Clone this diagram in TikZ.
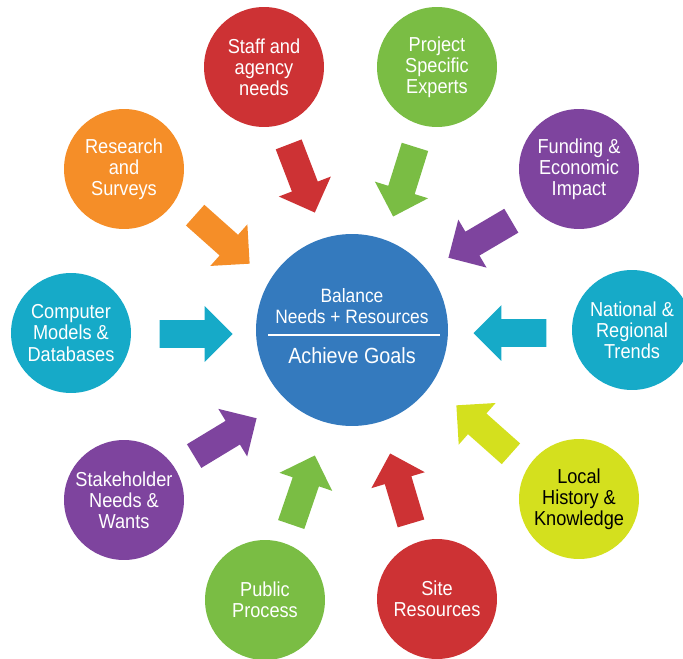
\documentclass[tikz,border=0pt]{standalone}
\usepackage{fontspec}
\setmainfont{Liberation Sans}[FakeStretch = 0.9]
\usetikzlibrary{shapes.arrows}

\definecolor{hubblue}{RGB}{52,122,190}
\definecolor{inred}{RGB}{205,50,52}
\definecolor{ingreen}{RGB}{122,189,68}
\definecolor{inorange}{RGB}{245,142,40}
\definecolor{inpurple}{RGB}{126,68,158}
\definecolor{incyan}{RGB}{22,170,200}
\definecolor{inyellow}{RGB}{212,224,30}

\begin{document}
\begin{tikzpicture}[x = 0.02cm, y = -0.02cm,
	topic/.style = {circle, minimum size = 2.4cm, inner sep = 0pt, align = center, font = \fontsize{11.5}{12}\selectfont},
	blockarrow/.style = {single arrow, anchor = tip, minimum height = 1.46cm, inner xsep = 0pt, inner ysep = 0.27cm, single arrow head extend = 0.28cm, draw = none}]

	\useasboundingbox (0,0) rectangle (683,659);

	% Central goal

	\node [circle, fill = hubblue, minimum size = 3.84cm] (goals) at (352,330) {};
	\node [text = white, align = center, font = \fontsize{11}{11.5}\selectfont] (balance) at (352,306) {Balance\\Needs + Resources};
	\node [text = white, font = \fontsize{12.5}{13}\selectfont] (achieve) at (352,356) {Achieve Goals};
	\draw [white, line width = 1pt] (268,335) -- (440,335);

	% Surrounding inputs

	\foreach \name/\x/\y/\col/\tcol/\txt in {staff/264/67/inred/white/{Staff and\\agency\\needs},
			experts/437/67/ingreen/white/{Project\\Specific\\Experts},
			research/124/169/inorange/white/{Research\\and\\Surveys},
			funding/579/169/inpurple/white/{Funding \&\\Economic\\Impact},
			models/71/333/incyan/white/{Computer\\Models \&\\Databases},
			trends/632/330/incyan/white/{National \&\\Regional\\Trends},
			history/579/499/inyellow/black/{Local\\History \&\\Knowledge},
			stakeholder/124/500/inpurple/white/{Stakeholder\\Needs \&\\Wants},
			public/265/600/ingreen/white/{Public\\Process},
			site/437/599/inred/white/{Site\\Resources}}
		\node [topic, fill = \col, text = \tcol] (\name) at (\x,\y) {\txt};

	% Block arrows into the centre (placed by their tips)

	\foreach \name/\x/\y/\a/\col in {arr-research/250/264/-41.7/inorange, arr-staff/315/213/-69/inred,
			arr-experts/393/217/-107.4/ingreen, arr-funding/448/258/-149.5/inpurple,
			arr-trends/473/333/180/incyan, arr-history/456/405/138.4/inyellow,
			arr-site/390/453/106.6/inred, arr-public/315/455/71.1/ingreen,
			arr-stakeholder/257/418/31.2/inpurple, arr-models/233/334/0/incyan}
		\node [blockarrow, fill = \col, rotate = \a] (\name) at (\x,\y) {};

\end{tikzpicture}
\end{document}
